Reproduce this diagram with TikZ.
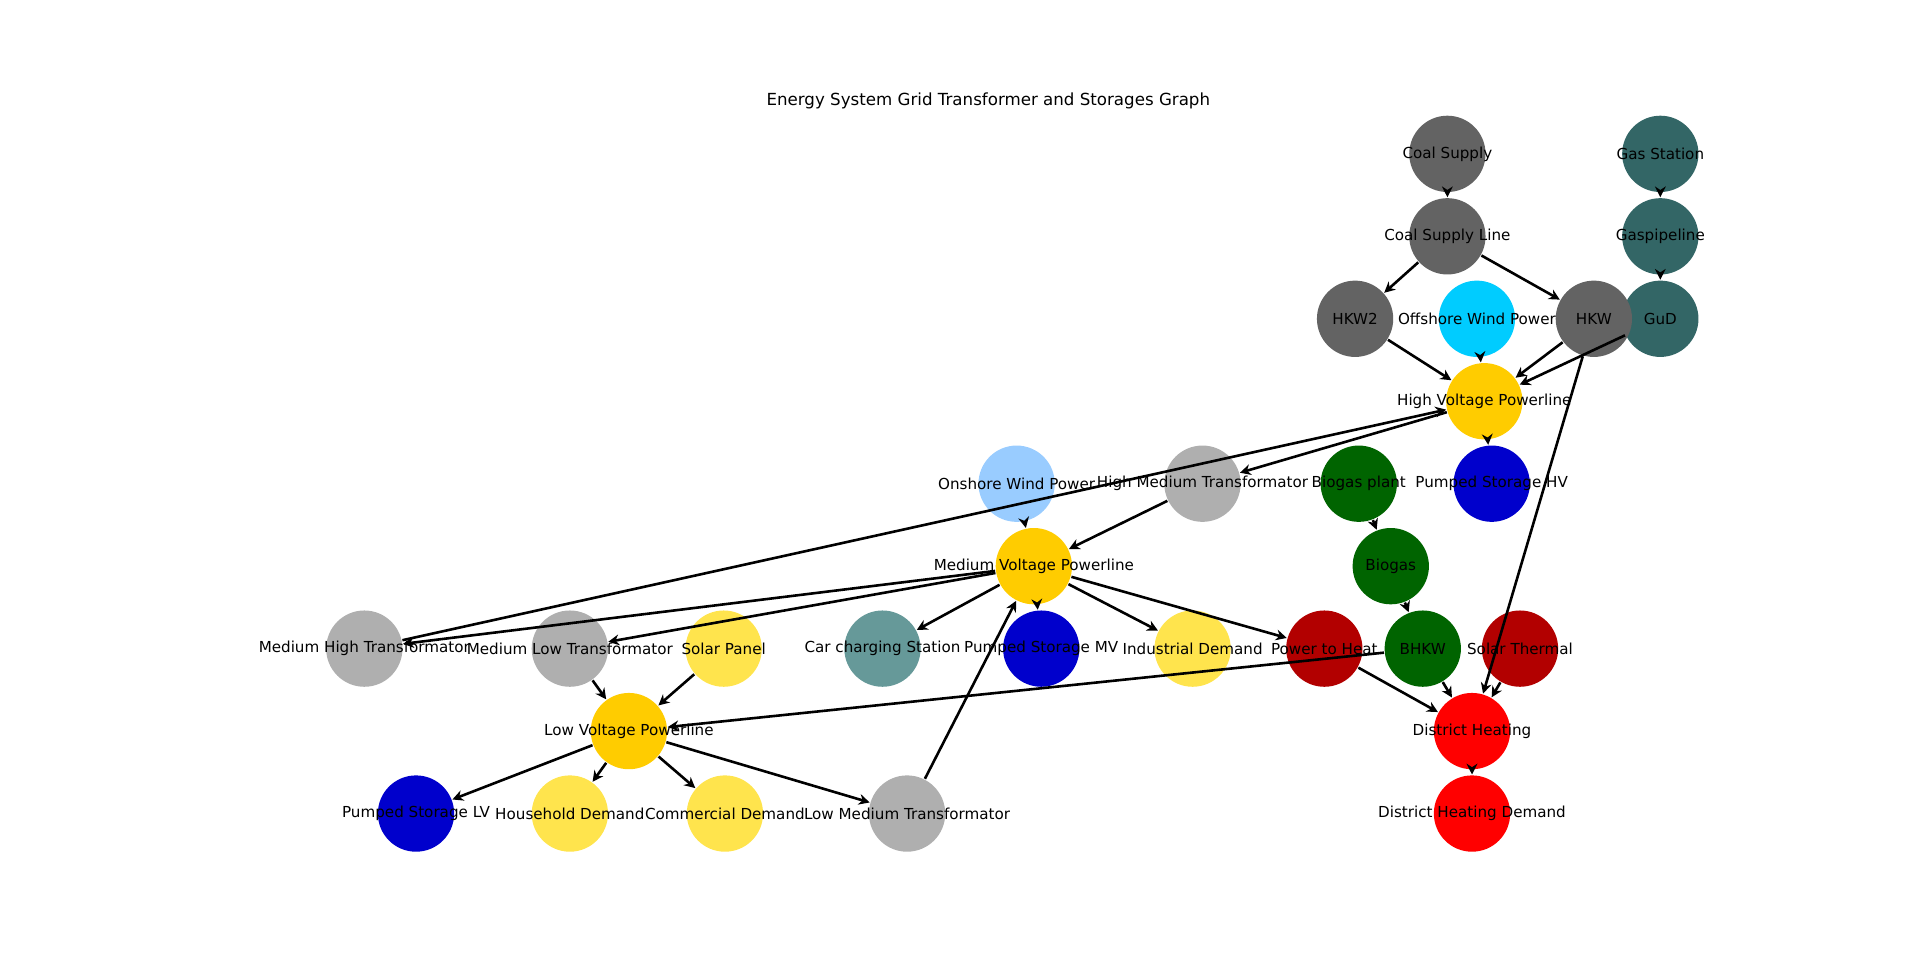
\documentclass[tikz,border=0pt]{standalone}
\usepackage{fontspec}
\setmainfont{DejaVu Sans}
\usetikzlibrary{arrows.meta}
\definecolor{cg}{HTML}{636363}\definecolor{ct}{HTML}{336666}
\definecolor{cy}{HTML}{FFCC00}\definecolor{cly}{HTML}{FFE44D}
\definecolor{cb}{HTML}{0000CC}\definecolor{cgr}{HTML}{AFAFAF}
\definecolor{cdg}{HTML}{006400}\definecolor{cdr}{HTML}{B20000}
\definecolor{cc}{HTML}{669999}\definecolor{coff}{HTML}{00CCFF}
\definecolor{con}{HTML}{99CCFF}
\begin{document}
\begin{tikzpicture}[x=0.01cm,y=-0.01cm,
  nd/.style={circle,minimum size=0.62cm,inner sep=0pt},
  ed/.style={line width=0.6pt,-{Stealth[length=2.5pt,width=2.5pt]}}]
\useasboundingbox (0,0) rectangle (1560,781);
\node[font=\fontsize{3.85}{5}\selectfont] (title) at (803,82) {Energy System Grid Transformer and Storages Graph};
\foreach \n/\x/\y/\c in {
cs/1176/125/cg, csl/1176/192/cg,
gs/1349/125/ct, gp/1349/192/ct, gud/1349/259/ct,
hkw2/1101/259/cg, off/1200/259/coff,
hkw/1295/259/cg, hvp/1206/326/cy,
on/826/393/con, hmt/977/393/cgr,
bp/1104/393/cdg, pshv/1212/393/cb,
mvp/840/460/cy, bg/1130/460/cdg,
mht/296/527/cgr, mlt/463/527/cgr,
sp/588/527/cly, cs2/717/527/cc, psmv/846/527/cb,
ind/969/527/cly, pth/1076/527/cdr, bhkw/1156/527/cdg,
st/1235/527/cdr, lvp/511/594/cy, dh/1196/594/red,
pslv/338/661/cb, hh/463/661/cly, com/589/661/cly,
lmt/737/661/cgr, dhd/1196/661/red}
  {\fill[\c] (\x,\y) circle (31);
   \node[nd] (\n) at (\x,\y) {};}
\foreach \a/\b in {cs/csl, csl/hkw2, csl/hkw, gs/gp, gp/gud, hkw2/hvp, off/hvp, hkw/hvp, gud/hvp,
 hkw/dh, hvp/pshv, hvp/hmt, mht/hvp, on/mvp, hmt/mvp, mvp/mht, mvp/mlt, sp/lvp, mlt/lvp,
 mvp/cs2, mvp/psmv, mvp/ind, mvp/pth, lmt/mvp, lvp/pslv, lvp/hh, lvp/com, lvp/lmt,
 bhkw/lvp, pth/dh, bhkw/dh, st/dh, dh/dhd, bp/bg, bg/bhkw}
  \draw[ed] (\a) -- (\b);
\foreach \n/\t in {cs/Coal Supply, csl/Coal Supply Line, gs/Gas Station, gp/Gaspipeline, gud/GuD,
hkw2/HKW2, off/Offshore Wind Power, hkw/HKW, hvp/High Voltage Powerline, on/Onshore Wind Power,
hmt/High Medium Transformator, bp/Biogas plant, pshv/Pumped Storage HV, mvp/Medium Voltage Powerline,
bg/Biogas, mht/Medium High Transformator, mlt/Medium Low Transformator, sp/Solar Panel,
cs2/Car charging Station, psmv/Pumped Storage MV, ind/Industrial Demand, pth/Power to Heat,
bhkw/BHKW, st/Solar Thermal, lvp/Low Voltage Powerline, dh/District Heating, pslv/Pumped Storage LV,
hh/Household Demand, com/Commercial Demand, lmt/Low Medium Transformator, dhd/District Heating Demand}
  \node[font=\fontsize{3.5}{4.5}\selectfont,inner sep=0pt] at (\n) {\t};
\end{tikzpicture}
\end{document}
